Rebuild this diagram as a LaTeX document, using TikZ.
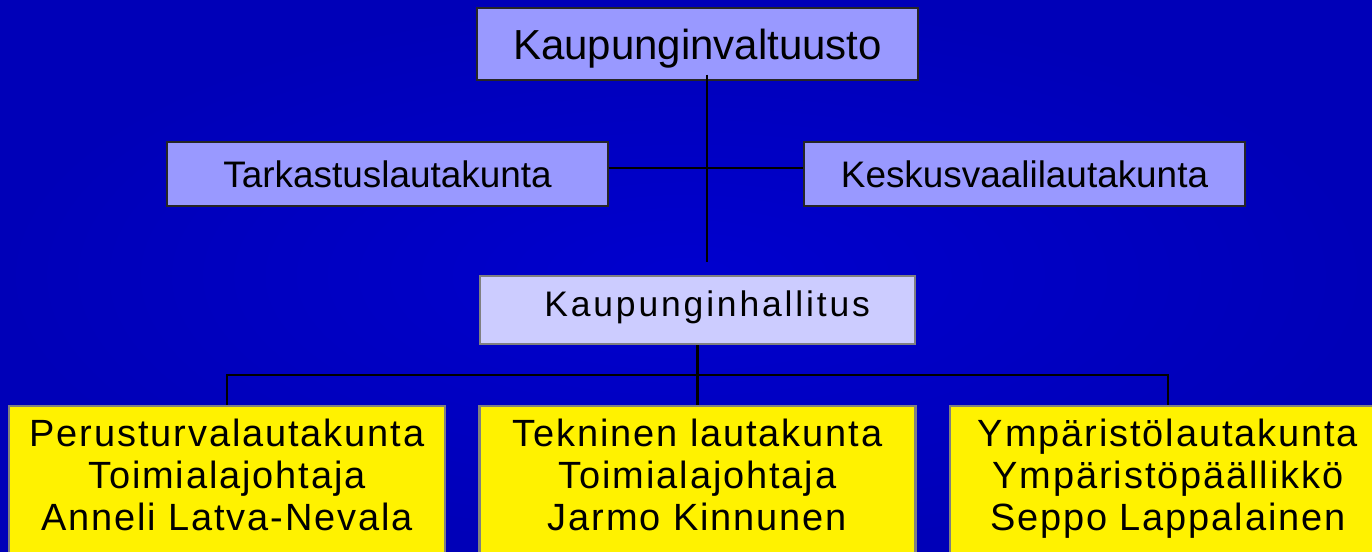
\documentclass[tikz,border=0pt]{standalone}
\usepackage{fontspec}
\setmainfont{Liberation Sans}
\newfontfamily\widefont[LetterSpace=8]{Liberation Sans}
\newfontfamily\spacedfont[LetterSpace=5]{Liberation Sans}
\definecolor{bgin}{RGB}{0,0,206}
\definecolor{bgout}{RGB}{0,0,184}
\definecolor{lila}{RGB}{153,153,255}
\definecolor{vaalea}{RGB}{204,204,255}
\definecolor{reuna}{RGB}{128,128,128}
\begin{document}
\begin{tikzpicture}[x=0.5691pt,y=-0.5691pt,
    wire/.style={draw=black,line width=1.2pt},
    topbox/.style={draw=black!85,fill=lila,line width=0.7pt,minimum width=251pt,text depth=0pt},
    hallbox/.style={draw=reuna,fill=vaalea,line width=1.4pt,minimum width=247.6pt,minimum height=38.7pt},
    ltkbox/.style={draw=reuna,fill=yellow,line width=1.4pt,minimum width=248.1pt,anchor=north,
        align=center,inner ysep=7pt,text depth=70pt,font=\spacedfont\fontsize{21.6pt}{23.9pt}\selectfont}]
    \useasboundingbox (0,0) rectangle (1372,552);
    \clip (0,0) rectangle (1372,552);
    \shade[inner color=bgin,outer color=bgout] (0,0) rectangle (1372,552);
    \node[topbox,minimum height=41pt,font=\fontsize{23.9pt}{28pt}\selectfont] (valt) at (697.5,44) {Kaupunginvaltuusto};
    \node[topbox,minimum height=36.4pt,font=\fontsize{21pt}{25pt}\selectfont] (tark) at (387.5,174) {Tarkastuslautakunta};
    \node[topbox,minimum height=36.4pt,font=\fontsize{21pt}{25pt}\selectfont] (kesk) at (1024.5,174) {Keskusvaalilautakunta};
    \node[hallbox,text depth=7.4pt,font=\widefont\fontsize{20.2pt}{24pt}\selectfont] (hall) at (697.5,310) {\hspace*{11pt}Kaupunginhallitus};
    \node[ltkbox] (perus) at (227,405) {Perusturvalautakunta\\Toimialajohtaja\\Anneli Latva-Nevala};
    \node[ltkbox] (tekn) at (697.5,405) {Tekninen lautakunta\\Toimialajohtaja\\Jarmo Kinnunen};
    \node[ltkbox] (ymp) at (1168,405) {Ympäristölautakunta\\Ympäristöpäällikkö\\Seppo Lappalainen};
    \coordinate (spine) at (707,262);
    \coordinate (bus) at (697.5,375);
    \path[wire,shorten <=-3.4pt] (valt.south -| spine) -- (spine);
    \path[wire] ([yshift=3.4pt]tark.east) -- ([yshift=3.4pt]kesk.west);
    \path[wire] (hall.south) -- (bus);
    \path[wire] (perus.north) -- (perus.north |- bus) -- (ymp.north |- bus) -- (ymp.north);
    \path[wire] (bus) -- (tekn.north);
\end{tikzpicture}
\end{document}
